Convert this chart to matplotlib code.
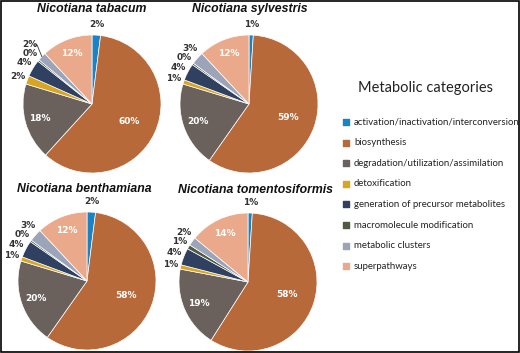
import matplotlib.pyplot as plt
import matplotlib.patches as mpatches
import numpy as np

categories = ["activation/inactivation/interconversion", "biosynthesis",
              "degradation/utilization/assimilation", "detoxification",
              "generation of precursor metabolites", "macromolecule modification",
              "metabolic clusters", "superpathways"]
colors = ["#1b82c4", "#b8693a", "#6a615c", "#d9a420",
          "#2f4060", "#4f5b40", "#9ba4b8", "#eaa98a"]

species = ["Nicotiana tabacum", "Nicotiana sylvestris",
           "Nicotiana benthamiana", "Nicotiana tomentosiformis"]
tabacum = [2, 60, 18, 2, 4, 0.4, 2, 12]
sylvestris = [1, 59, 20, 1, 4, 0.4, 3, 12]
benthamiana = [2, 58, 20, 1, 4, 0.4, 3, 12]
tomentosiformis = [1, 58, 19, 1, 4, 1, 2, 14]
all_values = [tabacum, sylvestris, benthamiana, tomentosiformis]

W, H = 520, 353
fig = plt.figure(figsize=(W / 100, H / 100), dpi=100)
ax = fig.add_axes([0, 0, 1, 1])

# pie centres / title positions in pixel coords (y from top)
centres = [(92, 104), (249, 104), (87, 281), (248, 282)]
titles_xy = [(92, 9), (250, 9), (84, 189), (256, 190)]
R = 69


def draw_pie(vals, cx, cy, title, tx, ty):
    cy = H - cy
    wedges, _ = ax.pie(vals, colors=colors, startangle=90, counterclock=False,
                       center=(cx, cy), radius=R,
                       wedgeprops=dict(edgecolor="white", linewidth=0.5))
    total = sum(vals)
    left = []
    for w, v in zip(wedges, vals):
        pct = v / total * 100
        mid = np.deg2rad((w.theta1 + w.theta2) / 2)
        txt = f"{pct:.0f}%"
        if pct >= 8:
            d = 0.6 if pct > 50 else 0.78
            ax.text(cx + d * R * np.cos(mid), cy + d * R * np.sin(mid), txt,
                    color="white", fontsize=6.5, fontweight="bold",
                    ha="center", va="center")
        elif np.cos(mid) > 0.3:
            ax.text(cx + 1.12 * R * np.cos(mid), cy + 1.12 * R * np.sin(mid), txt,
                    color="#333333", fontsize=6.5, fontweight="bold",
                    ha="center", va="center")
        else:
            left.append([mid, 1.15 * R * np.sin(mid), txt])
    left.sort(key=lambda a: a[1])
    prev = None
    for item in left:
        mid, y, txt = item
        y0 = y
        if prev is not None and y < prev + 0.13 * R:
            y = prev + 0.13 * R
        prev = y
        x = 1.15 * R * np.cos(mid)
        if y - y0 > 0.04 * R:
            x = x - 0.06 * R
            ax.plot([cx + R * np.cos(mid), cx + x + 0.1 * R, cx + x + 0.06 * R],
                    [cy + R * np.sin(mid), cy + y, cy + y],
                    color="#333333", lw=0.6)
        ax.text(cx + x, cy + y, txt, color="#333333", fontsize=6.5,
                fontweight="bold", ha="center", va="center")
    ax.text(tx, H - ty, title, fontsize=8.8, fontweight="bold", style="italic",
            family="Liberation Sans", ha="center", va="center", color="#111111")


for vals, (cx, cy), title, (tx, ty) in zip(all_values, centres, species, titles_xy):
    draw_pie(vals, cx, cy, title, tx, ty)

# legend
ax.text(425, H - 88, "Metabolic categories", fontsize=10.5, family="Lato",
        ha="center", va="center", color="#222222")
for i, (cat, col) in enumerate(zip(categories, colors)):
    y = H - (122 + i * 20.6)
    ax.scatter([346], [y], marker="s", s=14, color=col)
    ax.text(354, y, cat, fontsize=6.9, family="Lato", ha="left", va="center",
            color="#222222")

ax.set_xlim(0, W)
ax.set_ylim(0, H)
ax.set_aspect("auto")
ax.axis("off")

fig.add_artist(mpatches.Rectangle((0.002, 0.003), 0.996, 0.994,
                                  transform=fig.transFigure, fill=False,
                                  edgecolor="black", lw=1.2))
fig.savefig("out.png", dpi=100)
